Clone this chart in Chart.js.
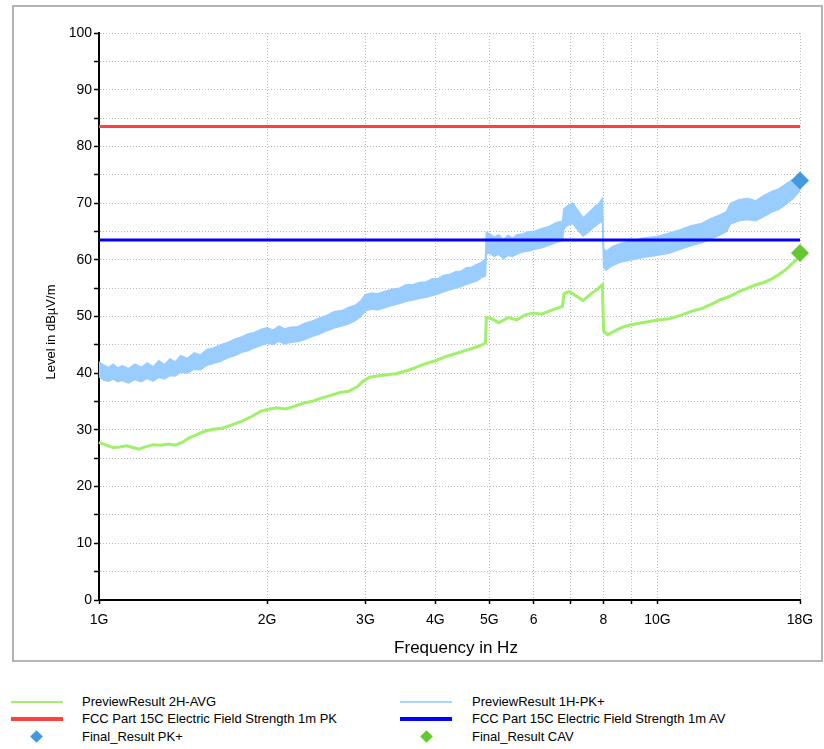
<!DOCTYPE html>
<html>
<head>
<meta charset="utf-8">
<script src="https://cdn.jsdelivr.net/npm/chart.js@4.4.1/dist/chart.umd.min.js"></script>
<style>
  body { margin:0; background:#fff; font-family:'Liberation Sans', Arial, sans-serif; }
  #wrap { position:relative; width:824px; height:749px; overflow:hidden; }
  #frame { position:absolute; left:12px; top:5px; width:807px; height:653px; border:2px solid #b4b4b4; }
  #chart { position:absolute; left:0; top:0; }
  .lg { position:absolute; left:0; width:824px; height:16px; }
  .sw { position:absolute; width:52px; }
  .dm { position:absolute; width:9px; height:9px; transform:rotate(45deg); }
  .tx { position:absolute; top:0; white-space:nowrap; font-size:13px; line-height:16px; color:#000; }
</style>
</head>
<body>
<div id="wrap">
  <div id="frame"></div>
  <canvas id="chart" width="824" height="670"></canvas>

  <div class="lg" style="top:694px">
    <div class="sw" style="left:11px;top:7px;height:1.5px;background:#9ff06a"></div><div class="tx" style="left:82px">PreviewResult 2H-AVG</div>
    <div class="sw" style="left:400px;top:7px;height:1.5px;background:#a8d4ff"></div><div class="tx" style="left:472px">PreviewResult 1H-PK+</div>
  </div>
  <div class="lg" style="top:711px">
    <div class="sw" style="left:11px;top:6px;height:4px;background:#ff4040"></div><div class="tx" style="left:82px">FCC Part 15C Electric Field Strength 1m PK</div>
    <div class="sw" style="left:400px;top:6px;height:4px;background:#0000ff"></div><div class="tx" style="left:472px">FCC Part 15C Electric Field Strength 1m AV</div>
  </div>
  <div class="lg" style="top:729px">
    <div class="dm" style="left:32px;top:3px;background:#4499dd"></div><div class="tx" style="left:82px">Final_Result PK+</div>
    <div class="dm" style="left:422px;top:3px;background:#66c733"></div><div class="tx" style="left:472px">Final_Result CAV</div>
  </div>
</div>

<script>
// x axis (GHz, log) ticks
const xTicks = [1, 2, 3, 4, 5, 6, 7, 8, 9, 10, 18];
const xTickLabels = ['1G', '2G', '3G', '4G', '5G', '6', '', '8', '', '10G', '18G'];

// PreviewResult 1H-PK+ : noisy trace, read as upper / lower envelope (GHz / dBµV/m)
const pkFreq = [1.00,1.02,1.04,1.06,1.08,1.10,1.13,1.16,1.19,1.22,1.25,1.28,1.31,1.34,1.37,1.40,1.44,1.48,1.52,1.56,
  1.60,1.65,1.70,1.75,1.80,1.85,1.90,1.95,2.00,2.05,2.10,2.15,2.20,2.27,2.34,2.41,2.48,2.56,2.64,2.72,
  2.80,2.88,2.94,3.00,3.08,3.16,3.25,3.35,3.45,3.55,3.65,3.75,3.85,3.95,4.05,4.15,4.25,4.35,4.45,4.55,
  4.65,4.75,4.85,4.92,4.94,5.00,5.10,5.20,5.30,5.40,5.50,5.60,5.75,5.90,6.00,6.20,6.40,6.60,6.76,6.80,
  6.90,7.05,7.20,7.36,7.50,7.70,7.85,7.97,8.01,8.10,8.30,8.60,9.00,9.40,10.0,10.5,11.0,11.5,12.0,12.5,
  13.0,13.3,13.5,14.0,14.5,15.0,15.5,16.0,16.5,17.0,17.5,18.0];
const pkUpper = [42.0,41.4,41.0,41.6,40.9,41.3,40.8,41.6,41.0,41.8,41.1,42.2,41.5,42.5,42.0,43.1,42.6,43.6,43.2,44.2,
  44.4,45.0,45.4,46.0,46.4,46.9,47.2,47.7,48.0,47.6,48.3,47.8,48.1,48.2,48.8,49.2,49.7,50.2,50.9,51.0,
  51.6,52.0,52.7,53.9,54.1,54.0,54.4,54.8,55.0,55.6,55.6,56.0,56.1,56.6,56.7,57.3,57.4,57.9,58.0,58.6,
  58.7,59.2,59.6,60.2,64.8,64.6,64.0,64.4,63.5,64.3,63.8,64.4,64.6,65.0,65.0,65.5,65.9,66.6,66.8,69.0,
  69.5,70.0,68.7,67.4,68.1,69.2,69.9,70.8,62.0,61.5,62.3,62.9,63.3,63.8,64.1,64.7,65.3,66.0,66.4,67.3,
  68.0,68.5,69.9,70.6,70.8,70.4,71.3,72.0,72.5,73.4,74.2,74.6];
const pkLower = [39.4,38.8,38.6,39.0,38.5,38.7,38.3,38.9,38.5,39.1,38.6,39.3,39.0,39.6,39.5,40.2,40.0,40.7,40.6,41.4,
  41.7,42.1,42.7,43.1,43.7,44.0,44.5,44.9,45.3,45.1,45.6,45.2,45.4,45.6,46.0,46.5,46.9,47.5,48.0,48.3,
  48.7,49.3,49.9,51.0,51.3,51.2,51.6,52.0,52.3,52.7,52.9,53.2,53.4,53.7,54.0,54.4,54.7,55.0,55.3,55.7,
  56.0,56.3,56.9,57.2,61.0,61.2,60.6,61.0,60.2,60.8,60.6,61.0,61.4,61.6,61.8,62.1,62.6,63.1,63.4,65.5,
  66.1,66.4,65.3,64.2,64.8,65.8,66.4,67.0,58.6,58.2,59.0,59.6,60.0,60.4,60.8,61.2,61.9,62.5,63.0,63.7,
  64.5,65.0,66.3,66.9,67.1,66.9,67.6,68.4,68.9,69.8,70.8,72.2];

// PreviewResult 2H-AVG
const avgFreq = [1.00,1.03,1.06,1.09,1.12,1.15,1.18,1.21,1.25,1.29,1.33,1.37,1.41,1.45,1.50,1.55,1.60,1.66,1.72,1.80,
  1.88,1.95,2.00,2.08,2.16,2.24,2.32,2.40,2.50,2.60,2.70,2.80,2.90,2.97,3.05,3.20,3.40,3.60,3.80,4.00,
  4.20,4.40,4.60,4.80,4.92,4.94,5.05,5.20,5.40,5.60,5.80,6.00,6.20,6.50,6.76,6.80,6.95,7.15,7.36,7.60,
  7.80,7.97,8.01,8.15,8.40,8.70,9.00,9.50,10.0,10.5,11.0,11.5,12.0,12.5,13.0,13.5,14.0,14.5,15.0,15.5,
  16.0,16.5,17.0,17.5,18.0];
const avgLevel = [27.8,27.3,26.9,27.0,27.2,26.9,26.6,27.0,27.4,27.3,27.5,27.3,27.8,28.6,29.2,29.8,30.1,30.3,30.8,31.5,
  32.4,33.3,33.6,33.9,33.7,34.2,34.7,35.0,35.6,36.1,36.6,36.8,37.6,38.6,39.3,39.6,39.9,40.6,41.5,42.2,
  43.0,43.6,44.2,44.8,45.3,49.8,49.6,48.9,49.8,49.4,50.3,50.6,50.4,51.2,51.8,54.0,54.4,53.6,52.8,54.0,
  54.8,55.6,47.4,46.8,47.5,48.2,48.6,49.0,49.4,49.6,50.2,50.9,51.4,52.2,53.0,53.6,54.4,55.0,55.6,56.0,
  56.6,57.4,58.3,59.5,60.6];

// limit lines and final results
const limitFreq = [1, 18];
const limitPK = [83.5, 83.5];
const limitAV = [63.5, 63.5];
const finalPkFreq = [18];
const finalPkLevel = [74.0];
const finalCavFreq = [18];
const finalCavLevel = [61.2];

const pts = (xs, ys) => xs.map((x, i) => ({ x: x, y: ys[i] }));

const font = "'Liberation Sans', Arial, sans-serif";
const gridCol = '#b8b8b8';

// axis titles drawn at fixed spots
const axisTitles = {
  id: 'axisTitles',
  afterDraw(chart) {
    const ctx = chart.ctx;
    ctx.save();
    ctx.fillStyle = '#000';
    ctx.textAlign = 'center';
    ctx.textBaseline = 'middle';
    ctx.font = "17px " + font;
    ctx.fillText('Frequency in Hz', 456, 648);
    ctx.translate(51, 332);
    ctx.rotate(-Math.PI / 2);
    ctx.font = "13px " + font;
    ctx.fillText('Level in dBµV/m', 0, 0);
    ctx.restore();
  }
};

new Chart(document.getElementById('chart'), {
  type: 'line',
  data: {
    datasets: [
      { label: 'Final_Result PK+', data: pts(finalPkFreq, finalPkLevel), showLine: false,
        pointStyle: 'rectRot', pointRadius: 9, backgroundColor: '#4499dd', borderWidth: 0, order: 0 },
      { label: 'Final_Result CAV', data: pts(finalCavFreq, finalCavLevel), showLine: false,
        pointStyle: 'rectRot', pointRadius: 9, backgroundColor: '#66c733', borderWidth: 0, order: 0 },
      { label: 'FCC Part 15C Electric Field Strength 1m PK', data: pts(limitFreq, limitPK),
        borderColor: '#ff4040', borderWidth: 3, pointRadius: 0, order: 1 },
      { label: 'FCC Part 15C Electric Field Strength 1m AV', data: pts(limitFreq, limitAV),
        borderColor: '#0000ff', borderWidth: 3, pointRadius: 0, order: 1 },
      { label: 'PreviewResult 2H-AVG', data: pts(avgFreq, avgLevel),
        borderColor: '#9ff06a', borderWidth: 3, pointRadius: 0, order: 2 },
      { label: 'PreviewResult 1H-PK+', data: pts(pkFreq, pkUpper),
        borderColor: '#99ccff', borderWidth: 1.5, pointRadius: 0, order: 3 },
      { label: 'PreviewResult 1H-PK+ (min)', data: pts(pkFreq, pkLower),
        borderColor: '#99ccff', borderWidth: 1.5, pointRadius: 0, order: 4,
        fill: '-1', backgroundColor: '#99ccff' }
    ]
  },
  options: {
    responsive: false, animation: false, clip: false,
    layout: { padding: { left: 0, right: 24, top: 33, bottom: 0 } },
    plugins: { legend: { display: false }, tooltip: { enabled: false }, filler: { propagate: false } },
    scales: {
      x: {
        type: 'logarithmic', min: 1, max: 18,
        afterBuildTicks: s => { s.ticks = xTicks.map(v => ({ value: v })); },
        afterFit: s => { s.height = 70; },
        ticks: { autoSkip: false, maxRotation: 0, color: '#000', padding: 8,
          font: { family: font, size: 14 },
          callback: (v, i) => xTickLabels[i] },
        grid: { color: gridCol, lineWidth: 1, tickColor: '#000', tickLength: 4, tickWidth: 1.5 },
        border: { color: '#000', width: 2, dash: [1, 2] }
      },
      y: {
        min: 0, max: 100,
        afterFit: s => { s.width = 99; },
        ticks: { stepSize: 5, color: '#000', padding: 2,
          font: { family: font, size: 14 },
          callback: v => (v % 10 === 0 ? v : '') },
        grid: { color: gridCol, lineWidth: 1, tickColor: '#000', tickLength: 5, tickWidth: 1.5 },
        border: { color: '#000', width: 2, dash: [1, 2] }
      }
    }
  },
  plugins: [axisTitles]
});
</script>
</body>
</html>
